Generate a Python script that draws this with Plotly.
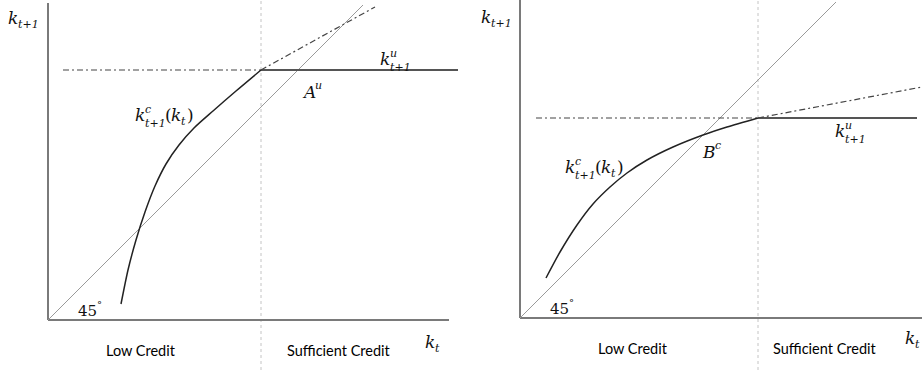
import plotly.graph_objects as go

# ---------------- data (panel-local units, origin at axes corner) ----------------
# Left panel (A^u case)
L_diag_x = [0, 315]
L_diag_y = [0, 315]
L_curve_x = [73, 80, 88, 97, 107, 118, 131, 146, 165, 188, 213]
L_curve_y = [16, 50, 80, 108, 134, 156, 175, 192, 209, 229, 250]
L_kink = 213
L_ku = 250
L_ku_dd_x = [15, 213]
L_ku_solid_x = [213, 410]
L_ext_x = [213, 327]
L_ext_y = [250, 313]
L_xaxis_end = 401
L_yaxis_top = 317

# Right panel (B^c case)
R_diag_x = [0, 316]
R_diag_y = [0, 316]
R_curve_x = [26, 40, 57, 73, 90, 107, 127, 153, 183, 207, 238]
R_curve_y = [40, 66, 93, 114, 131, 145, 158, 171, 183, 191, 200]
R_kink = 238
R_ku = 200
R_ku_dd_x = [16, 238]
R_ku_solid_x = [238, 397]
R_ext_x = [238, 402]
R_ext_y = [200, 231]
R_xaxis_end = 402
R_yaxis_top = 318

region_labels = ["Low Credit", "Sufficient Credit"]

W, H = 922, 370
fig = go.Figure()

AX = "#7a7a7a"
CURVE = "#222222"
DD = "#444444"
DIAG = "#9a9a9a"
DIV = "#c4c4c4"
DASHDOT = "6px,3px,2px,3px"


def add_line(x, y, xa, ya, color, width, dash="solid", shape="linear", smooth=1):
    fig.add_trace(go.Scatter(x=x, y=y, xaxis=xa, yaxis=ya, mode="lines",
                             line=dict(color=color, width=width, dash=dash, shape=shape,
                                       smoothing=smooth),
                             hoverinfo="skip", showlegend=False))


def panel(xa, ya, diag_x, diag_y, cx, cy, kink, ku, dd_x, solid_x, ext_x, ext_y,
          xend, ytop, ybottom):
    add_line([kink, kink], [ybottom, ytop + 5], xa, ya, DIV, 1, "dot")
    add_line([0, xend], [0, 0], xa, ya, AX, 2)
    add_line([0, 0], [0, ytop], xa, ya, AX, 2)
    add_line(diag_x, diag_y, xa, ya, DIAG, 1)
    add_line(dd_x, [ku, ku], xa, ya, DD, 1.2, DASHDOT)
    add_line(solid_x, [ku, ku], xa, ya, "#555555", 2)
    add_line(ext_x, ext_y, xa, ya, DD, 1.2, DASHDOT)
    add_line(cx, cy, xa, ya, CURVE, 1.5, "solid", "spline", 0.7)


panel("x", "y", L_diag_x, L_diag_y, L_curve_x, L_curve_y, L_kink, L_ku,
      L_ku_dd_x, L_ku_solid_x, L_ext_x, L_ext_y, L_xaxis_end, L_yaxis_top, -50)
panel("x2", "y2", R_diag_x, R_diag_y, R_curve_x, R_curve_y, R_kink, R_ku,
      R_ku_dd_x, R_ku_solid_x, R_ext_x, R_ext_y, R_xaxis_end, R_yaxis_top, -52)

SERIF = "DejaVu Serif"
SANS = "Lato"
annos = []
BASE = 17
SCR = 11


def piece(xr, yr, x, y, text, dx=0, dy=0, size=BASE, fam=SERIF, align="left"):
    annos.append(dict(xref=xr, yref=yr, x=x, y=y, text=text, showarrow=False,
                      xanchor="left", yanchor="middle", xshift=dx, yshift=dy,
                      borderpad=0, borderwidth=0, align=align,
                      font=dict(family=fam, size=size, color="#111")))


def math_label(xr, yr, x, y, base, sup=None, sub=None, gap=10, tail=False):
    piece(xr, yr, x, y, "<i>%s</i>" % base)
    if sup and sub:
        piece(xr, yr, x, y, "<i>%s</i><br><i>%s</i>" % (sup, sub), dx=gap, dy=-1, size=SCR)
    elif sub:
        piece(xr, yr, x, y, "<i>%s</i>" % sub, dx=gap, dy=-6, size=SCR)
    if tail:
        piece(xr, yr, x, y, "(", dx=30)
        piece(xr, yr, x, y, "<i>k</i>", dx=36)
        piece(xr, yr, x, y, "<i>t</i>", dx=46, dy=-6, size=SCR)
        piece(xr, yr, x, y, ")", dx=52)


cfg = [("x", "y", dict(ylab=(-40, 302), kc=(87, 205), ku=(332, 261), pt=(254, 228),
                        ptname=("A", "u"), deg=(30, 9), low=93, suff=291, kt=(377, -22))),
       ("x2", "y2", dict(ylab=(-39, 301), kc=(45, 151), ku=(315, 187), pt=(182, 166),
                         ptname=("B", "c"), deg=(30, 9), low=113, suff=305, kt=(385, -20)))]

for xr, yr, d in cfg:
    math_label(xr, yr, *d["ylab"], "k", sub="t+1")
    math_label(xr, yr, *d["kc"], "k", sup="c", sub="t+1", tail=True)
    math_label(xr, yr, *d["ku"], "k", sup="u", sub="t+1")
    piece(xr, yr, *d["pt"], "<i>%s</i>" % d["ptname"][0])
    piece(xr, yr, *d["pt"], "<i>%s</i>" % d["ptname"][1], dx=13, dy=7, size=SCR)
    piece(xr, yr, *d["deg"], "45", size=15)
    piece(xr, yr, *d["deg"], "°", dx=19, dy=7, size=10)
    math_label(xr, yr, *d["kt"], "k", sub="t", gap=10)
    for lab, xc in zip(region_labels, [d["low"], d["suff"]]):
        annos.append(dict(xref=xr, yref=yr, x=xc, y=-30, text=lab, showarrow=False,
                          xanchor="center", yanchor="middle",
                          font=dict(family=SANS, size=14.5, color="#000")))

ax_common = dict(visible=False, showgrid=False, zeroline=False, fixedrange=True)
fig.update_layout(
    width=W, height=H,
    margin=dict(l=0, r=0, t=0, b=0),
    paper_bgcolor="white", plot_bgcolor="white",
    xaxis=dict(domain=[0, 460 / W], range=[-48, 412], **ax_common),
    yaxis=dict(domain=[0, 1], range=[-50, 320], **ax_common),
    xaxis2=dict(domain=[460 / W, 1], range=[-60, 402], **ax_common),
    yaxis2=dict(domain=[0, 1], range=[-52, 318], anchor="x2", **ax_common),
    annotations=annos,
    showlegend=False,
)

fig.write_html("out.html", config={"displayModeBar": False},
               post_script="document.body.style.margin='0';document.body.style.overflow='hidden';")
